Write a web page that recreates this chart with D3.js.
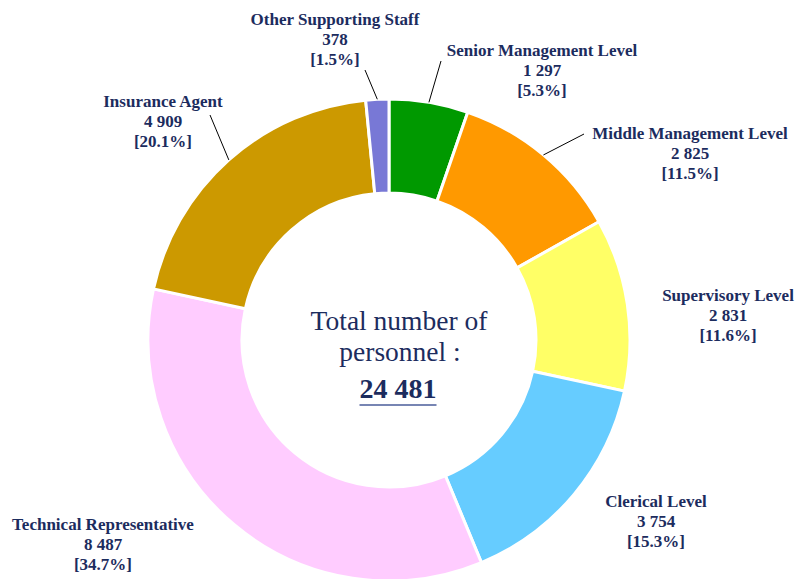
<!DOCTYPE html>
<html>
<head>
<meta charset="utf-8">
<script src="https://cdn.jsdelivr.net/npm/d3@7"></script>
<style>
  html, body { margin: 0; padding: 0; background: #ffffff; }
  svg { display: block; }
</style>
</head>
<body>
<svg id="chart" width="798" height="579"></svg>
<script>
// ---- data ----
const categories = ["Senior Management Level", "Middle Management Level", "Supervisory Level",
  "Clerical Level", "Technical Representative", "Insurance Agent", "Other Supporting Staff"];
const values = [1297, 2825, 2831, 3754, 8487, 4909, 378];
const valueLabels = ["1 297", "2 825", "2 831", "3 754", "8 487", "4 909", "378"];
const percentLabels = ["[5.3%]", "[11.5%]", "[11.6%]", "[15.3%]", "[34.7%]", "[20.1%]", "[1.5%]"];
const totalLabel = "24 481";

// ---- style / layout ----
const colors = ["#009900", "#ff9900", "#ffff66", "#66ccff", "#ffccff", "#cc9900", "#7878d6"];
const textColor = "#1c2c5e";
const cx = 389, cy = 340, outerR = 241, innerR = 147;
// label anchor (text centre x, first baseline y) and leader-line start (null = none)
const labelLayout = [
  { x: 542, y: 56, lead: [441, 61] },
  { x: 690, y: 139, lead: [584, 134] },
  { x: 728, y: 301, lead: null },
  { x: 656, y: 507, lead: null },
  { x: 103, y: 530, lead: null },
  { x: 163, y: 107, lead: [210, 115] },
  { x: 335, y: 25, lead: [365, 70] }
];

const svg = d3.select("#chart");
const g = svg.append("g").attr("transform", `translate(${cx},${cy})`);

const pie = d3.pie().sort(null).value(d => d).startAngle(0).endAngle(2 * Math.PI);
const arcs = pie(values);
const arc = d3.arc().innerRadius(innerR).outerRadius(outerR);

g.selectAll("path.slice")
  .data(arcs)
  .join("path")
  .attr("class", "slice")
  .attr("d", arc)
  .attr("fill", (d, i) => colors[i])
  .attr("stroke", "#ffffff")
  .attr("stroke-width", 3)
  .attr("stroke-linejoin", "miter");

// leader lines
arcs.forEach((a, i) => {
  const L = labelLayout[i];
  if (!L.lead) return;
  const mid = (a.startAngle + a.endAngle) / 2;
  const ex = Math.sin(mid) * outerR, ey = -Math.cos(mid) * outerR;
  g.append("line")
    .attr("x1", L.lead[0] - cx).attr("y1", L.lead[1] - cy)
    .attr("x2", ex).attr("y2", ey)
    .attr("stroke", "#000000").attr("stroke-width", 1);
});

// labels
const lab = svg.append("g")
  .attr("font-family", "'Liberation Serif', 'Times New Roman', serif")
  .attr("font-weight", "bold")
  .attr("font-size", 17)
  .attr("fill", textColor)
  .attr("text-anchor", "middle");

categories.forEach((c, i) => {
  const L = labelLayout[i];
  const t = lab.append("text").attr("x", L.x).attr("y", L.y);
  [c, valueLabels[i], percentLabels[i]].forEach((s, k) => {
    t.append("tspan").attr("x", L.x).attr("y", L.y + k * 20).text(s);
  });
});

// centre text
const ct = svg.append("g")
  .attr("font-family", "'Liberation Serif', 'Times New Roman', serif")
  .attr("fill", textColor)
  .attr("text-anchor", "middle");
ct.append("text").attr("x", 399).attr("y", 330).attr("font-size", 27.5).text("Total number of");
ct.append("text").attr("x", 400).attr("y", 361).attr("font-size", 27.5).text("personnel :");
const tot = ct.append("text").attr("x", 398).attr("y", 398).attr("font-size", 28)
  .attr("font-weight", "bold").text(totalLabel);
const bb = tot.node().getBBox();
ct.append("line")
  .attr("x1", bb.x).attr("x2", bb.x + bb.width)
  .attr("y1", 405).attr("y2", 405)
  .attr("stroke", "#4a5c9a").attr("stroke-width", 1.5);
</script>
</body>
</html>
